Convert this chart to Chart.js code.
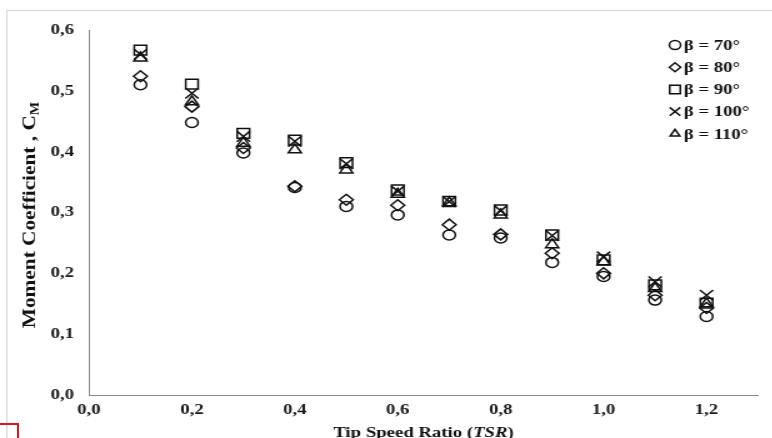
<!DOCTYPE html>
<html>
<head>
<meta charset="utf-8">
<script src="https://cdn.jsdelivr.net/npm/chart.js@4/dist/chart.umd.min.js"></script>
<style>
  html, body { margin: 0; padding: 0; background: #fff; overflow: hidden; }
  #page { position: relative; width: 772px; height: 438px; overflow: hidden; }
  #wrap { position: absolute; left: 0; top: 0; width: 618px; height: 438px; transform: scaleX(1.25); transform-origin: 0 0; }
  #mark { position: absolute; left: -20px; top: 423px; width: 35px; height: 40px; border: 2px solid #e3161d; }
</style>
</head>
<body>
<div id="page">
  <div id="wrap"><canvas id="cm-chart" width="618" height="438"></canvas></div>
  <div id="mark"></div>
</div>
<script>
// tip speed ratio and moment coefficient per blade angle
const tsr = [0.1, 0.2, 0.3, 0.4, 0.5, 0.6, 0.7, 0.8, 0.9, 1.0, 1.1, 1.2];
const cmBeta70 = [0.510, 0.448, 0.398, 0.341, 0.310, 0.296, 0.263, 0.258, 0.218, 0.195, 0.156, 0.129];
const cmBeta80 = [0.524, 0.474, 0.406, 0.343, 0.321, 0.312, 0.280, 0.264, 0.233, 0.200, 0.164, 0.143];
const cmBeta90 = [0.567, 0.511, 0.430, 0.419, 0.382, 0.337, 0.318, 0.304, 0.263, 0.222, 0.181, 0.151];
const cmBeta100 = [0.560, 0.496, 0.425, 0.417, 0.380, 0.335, 0.318, 0.303, 0.262, 0.227, 0.186, 0.164];
const cmBeta110 = [0.554, 0.482, 0.414, 0.403, 0.370, 0.330, 0.316, 0.296, 0.247, 0.219, 0.175, 0.150];
const seriesLabels = ["β = 70°", "β = 80°", "β = 90°", "β = 100°", "β = 110°"];
const xTicks = [0, 0.2, 0.4, 0.6, 0.8, 1.0, 1.2];

const FONT = "'Liberation Serif', 'Times New Roman', serif";
const comma = v => Number(v).toFixed(1).replace(".", ",");
const pts = arr => arr.map((y, i) => ({ x: tsr[i], y: y }));

function series(label, data, style, radius) {
    return {
        label: label,
        data: pts(data),
        pointStyle: style,
        pointRadius: radius,
        pointHoverRadius: radius,
        pointBorderWidth: 1.5,
        borderColor: "#111",
        backgroundColor: "rgba(0,0,0,0)",
        showLine: false
    };
}

// legend sits inside the plot, top right
const legendBox = {
    id: "legendBox",
    afterDraw(chart) {
        const ctx = chart.ctx;
        ctx.save();
        ctx.font = "bold 15px " + FONT;
        ctx.textBaseline = "middle";
        chart.data.datasets.forEach((ds, i) => {
            const y = 45 + i * 22.2;
            const r = ds.pointStyle === "crossRot" ? 6 : (ds.pointStyle === "rect" ? 6 : 4.5);
            ctx.lineWidth = 1.5;
            ctx.strokeStyle = "#111";
            ctx.fillStyle = "rgba(0,0,0,0)";
            Chart.helpers.drawPoint(ctx, { pointStyle: ds.pointStyle, radius: r, borderWidth: 1.5 }, 540, y);
            ctx.fillStyle = "#111";
            ctx.fillText(ds.label, 547, y + 1);
        });
        ctx.restore();
    }
};

// axis titles with italic / subscript parts
const axisTitles = {
    id: "axisTitles",
    afterDraw(chart) {
        const ctx = chart.ctx;
        const area = chart.chartArea;
        ctx.save();
        ctx.fillStyle = "#111";
        ctx.textBaseline = "alphabetic";

        const partsX = [["Tip Speed Ratio (", "bold 15px "], ["TSR", "italic bold 15px "], [")", "bold 15px "]];
        let w = 0;
        partsX.forEach(p => { ctx.font = p[1] + FONT; w += ctx.measureText(p[0]).width; });
        let x = (area.left + area.right) / 2 - w / 2;
        partsX.forEach(p => {
            ctx.font = p[1] + FONT;
            ctx.fillText(p[0], x, 437);
            x += ctx.measureText(p[0]).width;
        });

        // y title runs longer than the tick text, so stretch it along its length
        ctx.translate(28, 215);
        ctx.rotate(-Math.PI / 2);
        ctx.scale(1.42, 1);
        ctx.font = "bold 15px " + FONT;
        const main = "Moment Coefficient , C";
        const mw = ctx.measureText(main).width;
        ctx.font = "bold 10px " + FONT;
        const sw = ctx.measureText("M").width;
        const start = -(mw + sw) / 2;
        ctx.font = "bold 15px " + FONT;
        ctx.fillText(main, start, 0);
        ctx.font = "bold 10px " + FONT;
        ctx.fillText("M", start + mw, 3);
        ctx.restore();
    }
};

// thin frame around the figure
const frame = {
    id: "frame",
    beforeDraw(chart) {
        const ctx = chart.ctx;
        ctx.save();
        ctx.strokeStyle = "#d4d4d4";
        ctx.lineWidth = 1;
        ctx.strokeRect(5.5, 10.5, 700, 500);
        ctx.restore();
    }
};

new Chart(document.getElementById("cm-chart"), {
    type: "scatter",
    data: {
        datasets: [
            series(seriesLabels[0], cmBeta70, "circle", 5),
            series(seriesLabels[1], cmBeta80, "rectRot", 5.5),
            series(seriesLabels[2], cmBeta90, "rect", 7),
            series(seriesLabels[3], cmBeta100, "crossRot", 7.5),
            series(seriesLabels[4], cmBeta110, "triangle", 6)
        ]
    },
    options: {
        responsive: false,
        animation: false,
        layout: { padding: { left: 0, right: 11.6, top: 30, bottom: 0 } },
        plugins: {
            legend: { display: false },
            tooltip: { enabled: false }
        },
        scales: {
            x: {
                type: "linear",
                min: 0,
                max: 1.3,
                afterBuildTicks: s => { s.ticks = xTicks.map(v => ({ value: v })); },
                afterFit: s => { s.height = 43; },
                grid: { display: false, drawTicks: false },
                border: { display: true, color: "#8a8a8a", width: 1 },
                ticks: {
                    padding: 6,
                    color: "#1a1a1a",
                    font: { family: FONT, size: 15, weight: "bold" },
                    callback: v => comma(v),
                    maxRotation: 0
                }
            },
            y: {
                min: 0,
                max: 0.6,
                afterFit: s => { s.width = 71.2; },
                grid: { display: false, drawTicks: false },
                border: { display: true, color: "#8a8a8a", width: 1 },
                ticks: {
                    stepSize: 0.1,
                    padding: 12,
                    color: "#1a1a1a",
                    font: { family: FONT, size: 15, weight: "bold" },
                    callback: v => comma(v)
                }
            }
        }
    },
    plugins: [frame, legendBox, axisTitles]
});
</script>
</body>
</html>
